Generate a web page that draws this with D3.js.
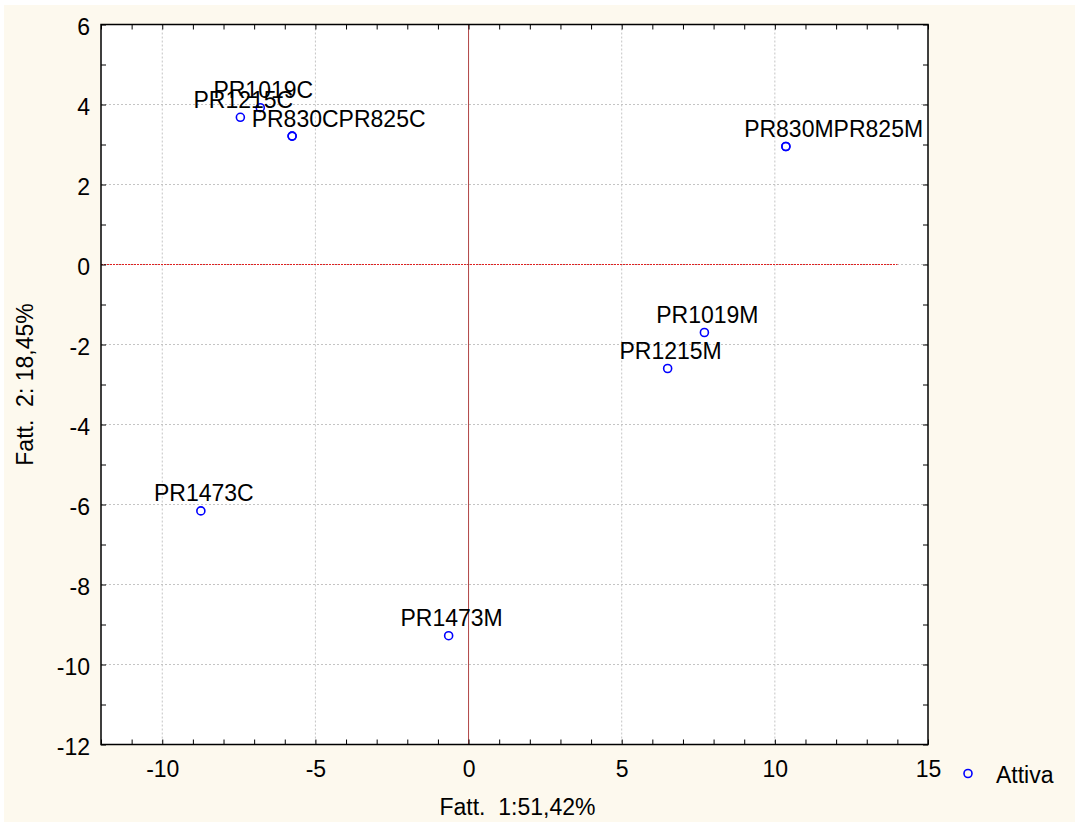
<!DOCTYPE html>
<html>
<head>
<meta charset="utf-8">
<script src="https://cdn.jsdelivr.net/npm/d3@7"></script>
<style>
  body { margin: 0; background: #ffffff; }
  svg { display: block; font-family: "Liberation Sans", Arial, sans-serif; }
</style>
</head>
<body>
<svg width="1075" height="825"></svg>
<script>
var canvas = d3.select("svg");

var iWidth = +canvas.attr("width");
var iHeight = +canvas.attr("height");

var margin = { top: 24.5, right: 147, bottom: 80.5, left: 101 };
var iInnerWidth = iWidth - margin.left - margin.right;
var iInnerHeight = iHeight - margin.top - margin.bottom;

var colorBack = "#fdf9ee";
var colorPoint = "#0000ff";
var colorGrid = "#c4c4c4";
var colorZero = "#e02020";
var colorZeroV = "#a83030";

// case labels and factor scores
var labels = ["PR1019C", "PR1215C", "PR830C", "PR825C", "PR830M", "PR825M",
              "PR1019M", "PR1215M", "PR1473C", "PR1473M"];
var fact1 = [-6.80, -7.45, -5.76, -5.76, 10.36, 10.36, 7.70, 6.50, -8.74, -0.65];
var fact2 = [3.92, 3.68, 3.21, 3.21, 2.95, 2.95, -1.70, -2.60, -6.16, -9.28];

var xDomain = [-12, 15];
var yDomain = [-12, 6];
var xTicks = [-10, -5, 0, 5, 10, 15];
var yTicks = [-12, -10, -8, -6, -4, -2, 0, 2, 4, 6];
var xMinor = d3.range(-12, 16, 1);
var yMinor = d3.range(-12, 7, 1);
var zeroLineEnd = 14;

var xTitle = "Fatt.  1:51,42%";
var yTitle = "Fatt.  2: 18,45%";
var legendText = "Attiva";

var points = labels.map(function (d, i) {
    return { name: d, x: fact1[i], y: fact2[i] };
});

var xScale = d3.scaleLinear().domain(xDomain).range([0, iInnerWidth]);
var yScale = d3.scaleLinear().domain(yDomain).range([iInnerHeight, 0]);

canvas.append("rect")
    .attr("x", 4).attr("y", 5)
    .attr("width", iWidth - 4).attr("height", iHeight - 8)
    .attr("fill", colorBack);

var parentGroup = canvas.append("g")
    .attr("transform", `translate(${margin.left},${margin.top})`);

parentGroup.append("rect")
    .attr("width", iInnerWidth)
    .attr("height", iInnerHeight)
    .attr("fill", "#ffffff");

// grid lines
parentGroup.append("g").selectAll("line")
    .data(xTicks.filter(d => d > xDomain[0] && d < xDomain[1] && d !== 0))
    .enter().append("line")
    .attr("x1", d => xScale(d)).attr("x2", d => xScale(d))
    .attr("y1", 0).attr("y2", iInnerHeight)
    .attr("stroke", colorGrid)
    .attr("stroke-dasharray", "2,2");

parentGroup.append("g").selectAll("line")
    .data(yTicks.filter(d => d > yDomain[0] && d < yDomain[1]))
    .enter().append("line")
    .attr("x1", 0).attr("x2", iInnerWidth)
    .attr("y1", d => yScale(d)).attr("y2", d => yScale(d))
    .attr("stroke", colorGrid)
    .attr("stroke-dasharray", "2,2");

// zero lines
parentGroup.append("line")
    .attr("x1", xScale(xDomain[0])).attr("x2", xScale(zeroLineEnd))
    .attr("y1", yScale(0)).attr("y2", yScale(0))
    .attr("stroke", colorZero)
    .attr("stroke-dasharray", "2,1");

parentGroup.append("line")
    .attr("x1", xScale(0)).attr("x2", xScale(0))
    .attr("y1", 0).attr("y2", iInnerHeight)
    .attr("stroke", colorZeroV)
    .attr("stroke-width", 0.9);

// minor ticks on all four sides (inside)
var tickLen = 5;
parentGroup.append("g")
    .attr("transform", `translate(0,${iInnerHeight})`)
    .call(d3.axisTop(xScale).tickValues(xMinor).tickSize(tickLen).tickFormat(""))
    .call(g => g.select(".domain").remove());
parentGroup.append("g")
    .call(d3.axisBottom(xScale).tickValues(xMinor).tickSize(tickLen).tickFormat(""))
    .call(g => g.select(".domain").remove());
parentGroup.append("g")
    .call(d3.axisRight(yScale).tickValues(yMinor).tickSize(tickLen).tickFormat(""))
    .call(g => g.select(".domain").remove());
parentGroup.append("g")
    .attr("transform", `translate(${iInnerWidth},0)`)
    .call(d3.axisLeft(yScale).tickValues(yMinor).tickSize(tickLen).tickFormat(""))
    .call(g => g.select(".domain").remove());

// frame
parentGroup.append("rect")
    .attr("width", iInnerWidth)
    .attr("height", iInnerHeight)
    .attr("fill", "none")
    .attr("stroke", "#000000")
    .attr("stroke-width", 1.5);

// tick labels, plain hyphen for negatives
var plain = d => String(d);
var xAxis = parentGroup.append("g")
    .attr("transform", `translate(0,${iInnerHeight})`)
    .call(d3.axisBottom(xScale).tickValues(xTicks).tickSize(0).tickPadding(16).tickFormat(plain));
xAxis.select(".domain").remove();
xAxis.selectAll("text").style("font-size", "23px").attr("fill", "#000");
xAxis.attr("font-family", null);

var yAxis = parentGroup.append("g")
    .call(d3.axisLeft(yScale).tickValues(yTicks).tickSize(0).tickPadding(11).tickFormat(plain));
yAxis.select(".domain").remove();
yAxis.selectAll("text").style("font-size", "23px").attr("fill", "#000").attr("dy", "0.42em");
yAxis.attr("font-family", null);

// axis titles
canvas.append("text")
    .attr("x", margin.left + iInnerWidth / 2 + 3)
    .attr("y", 815)
    .attr("text-anchor", "middle")
    .attr("xml:space", "preserve")
    .style("font-size", "23px")
    .text(xTitle);

canvas.append("text")
    .attr("transform", `translate(33,${margin.top + iInnerHeight / 2}) rotate(-90)`)
    .attr("text-anchor", "middle")
    .attr("xml:space", "preserve")
    .style("font-size", "23px")
    .text(yTitle);

// points
parentGroup.append("g").selectAll("circle")
    .data(points)
    .enter().append("circle")
    .attr("cx", d => xScale(d.x))
    .attr("cy", d => yScale(d.y))
    .attr("r", 4)
    .attr("fill", "none")
    .attr("stroke", colorPoint)
    .attr("stroke-width", 1.6);

// labels: coincident cases are put side by side
var labelGroup = parentGroup.append("g");
var placed = [];
points.forEach(function (d) {
    var t = labelGroup.append("text")
        .attr("text-anchor", "start")
        .style("font-size", "23px")
        .text(d.name);
    var w = t.node().getComputedTextLength();
    var px = xScale(d.x), py = yScale(d.y);
    var x0 = px + 3 - w / 2;
    var prev = placed.filter(p => p.x === d.x && p.y === d.y);
    if (prev.length) x0 = prev[prev.length - 1].right;
    t.attr("x", x0).attr("y", py - 9.5);
    placed.push({ x: d.x, y: d.y, right: x0 + w });
});

// legend
canvas.append("circle")
    .attr("cx", 968).attr("cy", 773.5)
    .attr("r", 4)
    .attr("fill", "none")
    .attr("stroke", colorPoint)
    .attr("stroke-width", 1.6);
canvas.append("text")
    .attr("x", 996).attr("y", 782.5)
    .style("font-size", "23px")
    .text(legendText);
</script>
</body>
</html>
